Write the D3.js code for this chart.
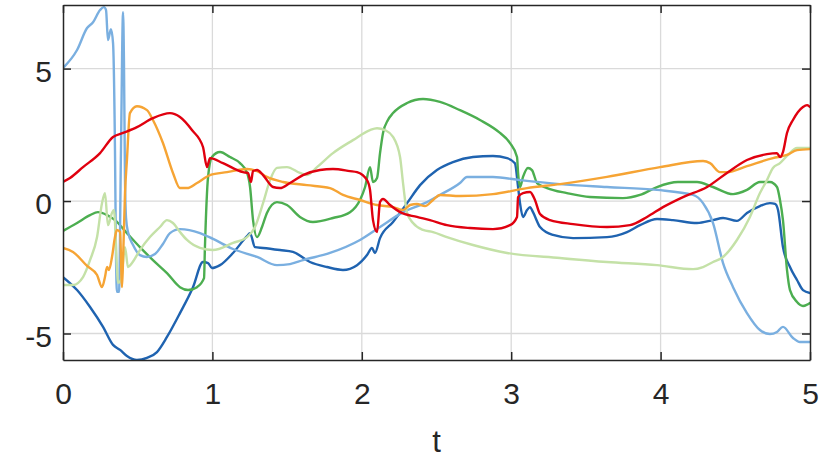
<!DOCTYPE html>
<html>
<head>
<meta charset="utf-8">
<script src="https://cdn.jsdelivr.net/npm/d3@7"></script>
<style>
  html, body { margin: 0; padding: 0; background: #fff; }
  svg { display: block; }
  .tick text { font-family: "Liberation Sans", Arial, Helvetica, sans-serif; fill: #262626; }
</style>
</head>
<body>
<svg id="chart" width="830" height="463"></svg>
<script>
// ---- data: [t, value] pairs ----
const xTicks = [0, 1, 2, 3, 4, 5];
const yTicks = [-5, 0, 5];
const xLabel = "t";

const darkBlue = [[0,-2.87],[0.094,-3.36],[0.181,-4.00],[0.268,-4.75],[0.335,-5.43],[0.382,-5.62],[0.428,-5.85],[0.495,-6.00],[0.562,-5.92],[0.629,-5.70],[0.696,-5.13],[0.783,-4.23],[0.870,-3.25],[0.937,-2.30],[0.971,-2.34],[0.997,-2.53],[1.051,-2.42],[1.138,-1.96],[1.232,-1.32],[1.252,-1.21],[1.285,-1.74],[1.339,-1.77],[1.452,-1.85],[1.539,-1.92],[1.653,-2.30],[1.767,-2.49],[1.874,-2.60],[1.968,-2.42],[2.035,-2.04],[2.068,-1.77],[2.088,-1.96],[2.122,-1.40],[2.209,-0.79],[2.303,-0.08],[2.390,0.60],[2.503,1.17],[2.610,1.47],[2.744,1.66],[2.878,1.70],[2.972,1.62],[3.025,1.43],[3.046,0.53],[3.059,-0.08],[3.079,-0.60],[3.106,-0.34],[3.126,-0.23],[3.146,-0.42],[3.193,-0.98],[3.280,-1.28],[3.414,-1.40],[3.641,-1.36],[3.775,-1.17],[3.862,-0.91],[3.976,-0.68],[4.083,-0.72],[4.244,-0.83],[4.351,-0.72],[4.418,-0.64],[4.511,-0.75],[4.578,-0.45],[4.665,-0.19],[4.732,-0.08],[4.766,-0.11],[4.786,-0.34],[4.819,-1.74],[4.866,-2.49],[4.913,-2.98],[4.953,-3.36],[5.0,-3.47]];

const green = [[0,-1.13],[0.094,-0.83],[0.181,-0.53],[0.234,-0.42],[0.295,-0.53],[0.348,-0.72],[0.428,-1.21],[0.515,-1.74],[0.602,-2.23],[0.696,-2.72],[0.783,-3.25],[0.837,-3.36],[0.897,-3.25],[0.944,-2.91],[0.950,-1.74],[0.971,0.91],[0.997,1.66],[1.051,1.85],[1.118,1.66],[1.185,1.43],[1.232,1.06],[1.252,0.53],[1.272,-0.72],[1.299,-1.36],[1.332,-0.98],[1.365,-0.45],[1.432,-0.04],[1.499,-0.15],[1.586,-0.60],[1.673,-0.79],[1.807,-0.64],[1.921,-0.42],[1.988,0.04],[2.022,0.53],[2.055,1.28],[2.075,0.72],[2.102,0.87],[2.122,1.81],[2.142,2.57],[2.175,3.06],[2.209,3.32],[2.303,3.70],[2.410,3.85],[2.523,3.74],[2.657,3.43],[2.791,3.06],[2.925,2.57],[2.992,2.19],[3.039,1.66],[3.046,1.06],[3.059,0.53],[3.079,0.91],[3.112,1.25],[3.139,1.17],[3.173,0.68],[3.240,0.49],[3.373,0.30],[3.527,0.15],[3.748,0.11],[3.862,0.23],[3.976,0.53],[4.116,0.72],[4.244,0.72],[4.351,0.53],[4.485,0.26],[4.578,0.42],[4.665,0.72],[4.732,0.72],[4.779,0.53],[4.799,0.04],[4.819,-0.72],[4.846,-2.60],[4.866,-3.36],[4.913,-3.81],[4.953,-3.96],[5.0,-3.85]];

const lightBlue = [[0,5.02],[0.094,5.70],[0.161,6.53],[0.201,6.75],[0.248,7.21],[0.274,7.32],[0.288,7.21],[0.301,6.08],[0.321,6.49],[0.335,5.96],[0.348,1.90],[0.355,-2.20],[0.361,-3.43],[0.375,-3.43],[0.388,1.90],[0.402,7.13],[0.408,5.30],[0.415,0.80],[0.422,-0.64],[0.435,-1.17],[0.469,-1.66],[0.515,-2.04],[0.562,-2.11],[0.616,-2.00],[0.669,-1.62],[0.716,-1.21],[0.783,-1.06],[0.917,-1.21],[1.004,-1.43],[1.138,-1.81],[1.299,-2.11],[1.432,-2.42],[1.519,-2.38],[1.606,-2.23],[1.787,-1.96],[1.988,-1.47],[2.122,-0.98],[2.276,-0.42],[2.436,-0.04],[2.523,0.23],[2.657,0.68],[2.704,0.91],[2.878,0.91],[3.059,0.79],[3.327,0.64],[3.641,0.53],[3.976,0.42],[4.217,0.23],[4.284,-0.08],[4.351,-0.83],[4.418,-2.34],[4.485,-3.25],[4.578,-4.23],[4.665,-4.87],[4.732,-5.02],[4.779,-4.94],[4.819,-4.75],[4.886,-5.17],[4.933,-5.32],[5.0,-5.32]];

const lightGreen = [[0,-3.17],[0.067,-3.17],[0.134,-2.87],[0.181,-2.23],[0.228,-1.36],[0.261,-0.08],[0.281,0.30],[0.301,-0.91],[0.328,-0.45],[0.341,-0.34],[0.361,-2.49],[0.368,-3.09],[0.388,-2.98],[0.415,-1.74],[0.435,-2.49],[0.462,-2.34],[0.515,-1.85],[0.582,-1.36],[0.649,-0.98],[0.696,-0.72],[0.736,-0.83],[0.783,-1.17],[0.830,-1.47],[0.917,-1.77],[1.004,-1.85],[1.138,-1.58],[1.232,-1.36],[1.285,-0.98],[1.339,-0.08],[1.386,0.79],[1.432,1.25],[1.499,1.28],[1.586,1.06],[1.633,0.98],[1.700,1.28],[1.807,1.81],[1.941,2.30],[2.055,2.68],[2.102,2.75],[2.155,2.68],[2.209,2.42],[2.256,1.66],[2.276,0.68],[2.303,-0.45],[2.343,-0.83],[2.410,-1.09],[2.477,-1.17],[2.570,-1.36],[2.744,-1.66],[2.972,-1.96],[3.327,-2.15],[3.641,-2.30],[3.976,-2.42],[4.217,-2.57],[4.284,-2.49],[4.351,-2.30],[4.418,-2.11],[4.511,-1.47],[4.598,-0.60],[4.665,0.30],[4.712,0.79],[4.752,1.25],[4.799,1.43],[4.853,1.74],[4.913,2.00],[5.0,2.00]];

const orange = [[0,-1.77],[0.067,-1.92],[0.161,-2.45],[0.228,-2.79],[0.261,-3.25],[0.281,-2.87],[0.295,-2.49],[0.308,-2.60],[0.328,-2.11],[0.348,-1.36],[0.361,-1.09],[0.382,-1.17],[0.395,-3.25],[0.402,-2.23],[0.415,0.30],[0.428,1.55],[0.448,3.32],[0.495,3.58],[0.562,3.43],[0.602,3.06],[0.669,2.19],[0.736,1.06],[0.783,0.49],[0.830,0.49],[0.897,0.68],[0.984,0.98],[1.098,1.09],[1.232,1.21],[1.299,1.13],[1.365,0.91],[1.473,0.72],[1.633,0.60],[1.787,0.49],[1.874,0.23],[1.988,0.04],[2.102,-0.15],[2.209,-0.23],[2.276,-0.34],[2.323,-0.15],[2.369,-0.11],[2.423,-0.19],[2.477,0.04],[2.523,0.23],[2.657,0.19],[2.878,0.26],[3.106,0.49],[3.327,0.64],[3.641,0.91],[3.996,1.28],[4.284,1.51],[4.331,1.43],[4.398,1.09],[4.444,1.09],[4.578,1.32],[4.752,1.62],[4.846,1.74],[4.913,1.92],[5.0,1.96]];

const red = [[0,0.72],[0.047,0.87],[0.134,1.28],[0.248,1.81],[0.335,2.42],[0.402,2.57],[0.495,2.79],[0.602,3.13],[0.716,3.32],[0.783,3.17],[0.863,2.68],[0.937,2.04],[0.964,1.28],[0.984,1.62],[1.071,1.43],[1.205,1.09],[1.238,1.06],[1.258,0.72],[1.272,1.13],[1.299,1.17],[1.339,0.98],[1.406,0.53],[1.452,0.49],[1.519,0.68],[1.606,0.98],[1.720,1.17],[1.807,1.21],[1.921,1.13],[1.968,1.09],[2.035,0.79],[2.055,0.42],[2.075,-0.72],[2.102,-1.17],[2.122,-0.04],[2.142,0.08],[2.189,-0.15],[2.256,-0.42],[2.369,-0.60],[2.456,-0.72],[2.570,-0.91],[2.724,-1.02],[2.878,-1.06],[2.992,-0.91],[3.039,-0.60],[3.046,0.15],[3.079,0.30],[3.126,0.34],[3.159,0.04],[3.193,-0.49],[3.260,-0.72],[3.414,-0.87],[3.641,-0.98],[3.795,-0.91],[3.909,-0.60],[4.016,-0.23],[4.150,0.15],[4.311,0.53],[4.444,1.06],[4.578,1.55],[4.712,1.77],[4.779,1.81],[4.799,1.66],[4.819,1.85],[4.846,2.57],[4.886,3.06],[4.953,3.55],[4.980,3.62],[5.0,3.55]];

const seriesList = [darkBlue, green, lightBlue, lightGreen, orange, red];
const seriesColors = ["#1f63b0", "#4cae50", "#7aafe0", "#c4e1a7", "#f6a434", "#e0000f"];

// ---- layout ----
const svg = d3.select("#chart");
const L = 63, R = 810, T = 5, B = 360;
const x = d3.scaleLinear().domain([0, 5]).range([L, R]);
const y = d3.scaleLinear().domain([-6, 7.4]).range([B, T]);

// grid
const grid = svg.append("g");
grid.selectAll("line.vx").data(xTicks.slice(1, -1)).enter().append("line")
  .attr("x1", d => x(d)).attr("x2", d => x(d)).attr("y1", T).attr("y2", B)
  .attr("stroke", "#dadada").attr("stroke-width", 1.3);
grid.selectAll("line.hy").data(yTicks).enter().append("line")
  .attr("x1", L).attr("x2", R).attr("y1", d => y(d)).attr("y2", d => y(d))
  .attr("stroke", "#dadada").attr("stroke-width", 1.3);

// lines
svg.append("clipPath").attr("id", "clip").append("rect")
  .attr("x", L).attr("y", T).attr("width", R - L).attr("height", B - T);
const line = d3.line().x(d => x(d[0])).y(d => y(d[1])).curve(d3.curveMonotoneX);
svg.append("g").attr("clip-path", "url(#clip)")
  .selectAll("path").data(seriesList).enter().append("path")
  .attr("d", line).attr("fill", "none")
  .attr("stroke", (d, i) => seriesColors[i]).attr("stroke-width", 2.4)
  .attr("stroke-linejoin", "round").attr("stroke-linecap", "round");

// axes
const axisColor = "#262626";
const fmt = d => String(d);
function style(g) {
  g.selectAll(".domain").attr("stroke", axisColor).attr("stroke-width", 1.5);
  g.selectAll(".tick line").attr("stroke", axisColor).attr("stroke-width", 1.5);
  g.selectAll(".tick text").attr("font-size", 30).attr("fill", axisColor);
}
const gx = svg.append("g").attr("transform", `translate(0,${B})`)
  .call(d3.axisBottom(x).tickValues(xTicks).tickFormat(fmt)
    .tickSizeInner(-8).tickSizeOuter(0).tickPadding(23));
style(gx);
const gy = svg.append("g").attr("transform", `translate(${L},0)`)
  .call(d3.axisLeft(y).tickValues(yTicks).tickFormat(fmt)
    .tickSizeInner(-8).tickSizeOuter(0).tickPadding(11));
style(gy);
gy.selectAll(".tick text").attr("dy", "0.42em");
const gt = svg.append("g").attr("transform", `translate(0,${T})`)
  .call(d3.axisTop(x).tickValues(xTicks).tickFormat("").tickSizeInner(-8).tickSizeOuter(0));
style(gt);
const gr = svg.append("g").attr("transform", `translate(${R},0)`)
  .call(d3.axisRight(y).tickValues(yTicks).tickFormat("").tickSizeInner(-8).tickSizeOuter(0));
style(gr);

svg.append("text").attr("x", (L + R) / 2).attr("y", 452)
  .attr("text-anchor", "middle").attr("font-size", 31)
  .attr("font-family", "'Liberation Sans', Arial, Helvetica, sans-serif")
  .attr("fill", axisColor).text(xLabel);
</script>
</body>
</html>
